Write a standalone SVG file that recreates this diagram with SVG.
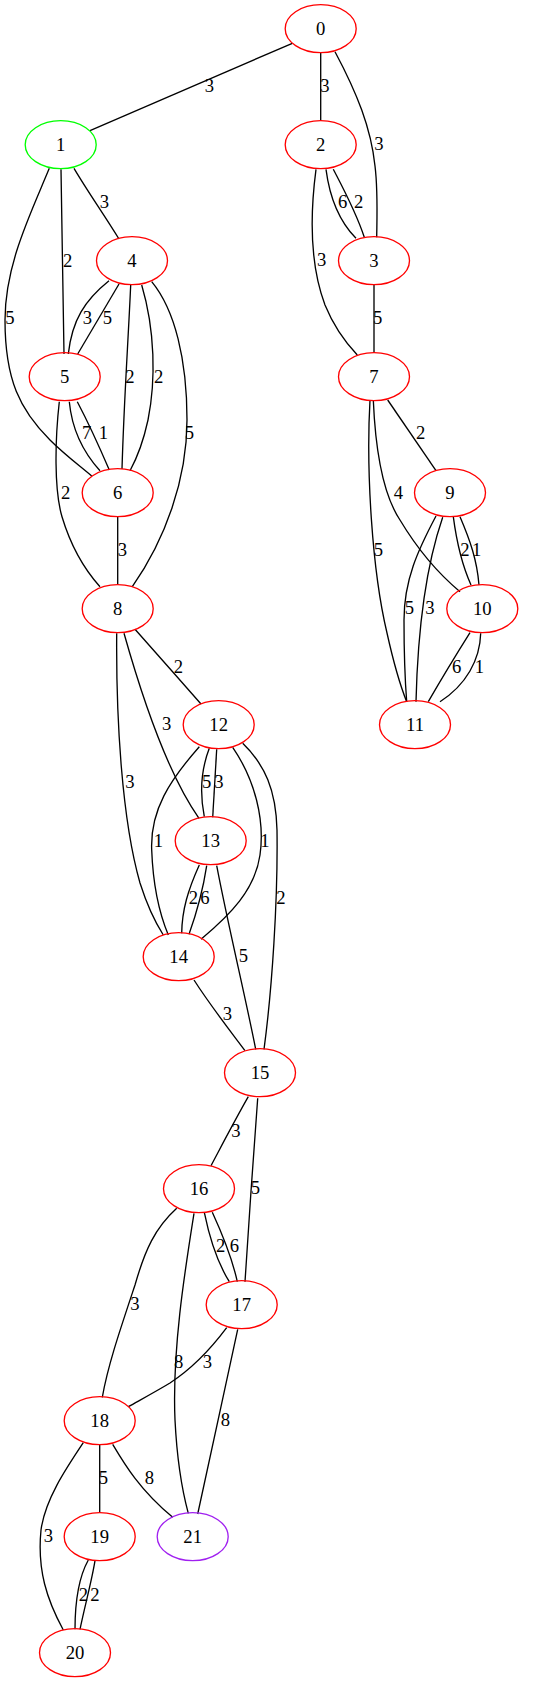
<svg xmlns="http://www.w3.org/2000/svg" width="539" height="1683" viewBox="0 0 539 1683">
<style>
.n ellipse{fill:none;stroke:#ff0000;stroke-width:1.33}
text{font-family:"Liberation Serif","Times New Roman",serif;font-size:18.67px;fill:#000;text-anchor:middle}
.e path{fill:none;stroke:#000;stroke-width:1.33}
</style>
<rect width="539" height="1683" fill="#fff"/>
<g id="edges" class="e">
<path d="M292.3,43.3 L90,130.7"/>
<path d="M320.7,52.7 L320.7,120.7"/>
<path d="M335,51.7 C357,93 371,128 375,166 C378,190 377,215 376.7,237.3"/>
<path d="M74,168.3 C88,192 105,216 119,239"/>
<path d="M61,169.3 C62,230 63,295 64,354"/>
<path d="M49.3,168.3 C30,215 5,265 5,320 C5,380 20,410 50,440 C65,455 80,466 91.7,476"/>
<path d="M326,169.3 C330,200 340,222 356,238.3"/>
<path d="M333.3,169.3 C343,188 356,212 364.3,237.3"/>
<path d="M316,169.3 C310,215 310,265 325,305 C334,327 345,342 357.3,355"/>
<path d="M374,284.7 L374,352.7"/>
<path d="M109,280.7 C85,300 72,320 68.3,354"/>
<path d="M119,284 L77.7,354"/>
<path d="M130.7,285 C128,345 124,400 122,469"/>
<path d="M141.7,285 C155,330 156,380 148,420 C143,443 137,458 130,470.7"/>
<path d="M151.7,281.7 C175,310 187,360 187,420 C187,480 165,540 132.3,586.7"/>
<path d="M69.3,401.7 C72,430 83,452 100,470.7"/>
<path d="M77.3,401.7 C88,422 99,446 109.3,470"/>
<path d="M59.3,401.7 C55,440 54,490 62,516.7 C72,550 85,570 100,586.7"/>
<path d="M117.7,516.7 L117.7,584.7"/>
<path d="M387.7,400 L436,470.7"/>
<path d="M373.3,400 C375,440 380,490 400,520 C418,550 440,575 460,591.7"/>
<path d="M370,400 C366,470 372,570 387,633 C393,660 400,685 406.7,701.7"/>
<path d="M453.3,516.7 C457,545 462,565 471,585"/>
<path d="M460,516.7 C470,540 477,560 479,585"/>
<path d="M436,516 C418,550 404,580 404,620 C404,650 405,680 406.7,701.7"/>
<path d="M442.7,517.3 C428,560 418,620 416,701.7"/>
<path d="M470,632.7 C456,655 442,678 428.3,701.7"/>
<path d="M480.7,633.3 C480,660 466,685 440,701.7"/>
<path d="M135,629.3 C155,652 180,680 201,704"/>
<path d="M124,633.3 C140,690 165,770 199,818.3"/>
<path d="M116.7,633.3 C116,720 122,820 140,883 C147,905 155,922 163.3,935"/>
<path d="M209.3,748.3 C201,770 200,795 204.3,816.7"/>
<path d="M216.7,749.3 L212.7,817.3"/>
<path d="M199.3,746.7 C170,780 150,810 151.7,850 C153,885 160,915 168.3,935"/>
<path d="M232.7,747.3 C255,780 265,820 260,855 C255,890 230,915 201,939.3"/>
<path d="M242.7,743.3 C265,765 276,790 277,830 C278,900 272,990 264,1049.3"/>
<path d="M199.3,865 C188,890 182,910 181.7,933.3"/>
<path d="M206.7,865.7 C203,890 197,912 189,934.3"/>
<path d="M216.7,865.7 C228,925 245,995 255.7,1049.3"/>
<path d="M194,980 C210,1005 228,1028 245,1050.7"/>
<path d="M248.3,1096.7 C235,1120 222,1145 211,1165.7"/>
<path d="M257.7,1098.3 C253,1160 249,1220 245,1281.7"/>
<path d="M204.3,1212.3 C210,1240 217,1262 229.3,1281.7"/>
<path d="M212.3,1212.3 C225,1240 233,1262 237.3,1281.7"/>
<path d="M176.7,1208.3 C155,1228 145,1250 135,1285 C120,1330 108,1365 102.3,1397.3"/>
<path d="M194,1213.3 C185,1270 172,1350 175,1420 C177,1460 182,1490 188.3,1513.3"/>
<path d="M226.7,1327.7 C210,1350 190,1370 170,1383 C155,1392 142,1399 128.3,1406.7"/>
<path d="M237.7,1329.3 C225,1390 210,1455 197.7,1514"/>
<path d="M99.7,1444.7 L99.7,1512.7"/>
<path d="M112.7,1444.3 C125,1465 140,1490 172.7,1517.3"/>
<path d="M83.3,1442.7 C65,1470 45,1500 41,1530 C37,1570 47,1600 63.3,1630"/>
<path d="M88.3,1560 C80,1575 75,1595 75,1629.3"/>
<path d="M95,1560.7 C92,1580 85,1605 80,1629.3"/>
</g>
<g id="edge-labels" font-family="Liberation Serif, serif">
<text x="209.3" y="92">3</text>
<text x="325" y="92">3</text>
<text x="379" y="150">3</text>
<text x="104.3" y="208">3</text>
<text x="67.7" y="267">2</text>
<text x="10" y="324">5</text>
<text x="342.7" y="208">6</text>
<text x="358.7" y="208">2</text>
<text x="321.7" y="266">3</text>
<text x="377.7" y="324">5</text>
<text x="87.3" y="324">3</text>
<text x="107.3" y="324">5</text>
<text x="130" y="383">2</text>
<text x="158.7" y="383">2</text>
<text x="189.3" y="439">5</text>
<text x="86.7" y="439">7</text>
<text x="103.3" y="439">1</text>
<text x="65.7" y="499">2</text>
<text x="122.3" y="556">3</text>
<text x="420.7" y="439">2</text>
<text x="398.3" y="499">4</text>
<text x="378.3" y="556">5</text>
<text x="465" y="556">2</text>
<text x="476.7" y="556">1</text>
<text x="409.3" y="614">5</text>
<text x="430" y="614">3</text>
<text x="456.7" y="673">6</text>
<text x="479.3" y="673">1</text>
<text x="178.3" y="673">2</text>
<text x="166.7" y="730">3</text>
<text x="130" y="788">3</text>
<text x="206.7" y="788">5</text>
<text x="219" y="788">3</text>
<text x="158.3" y="847">1</text>
<text x="265" y="847">1</text>
<text x="281" y="904">2</text>
<text x="193.3" y="904">2</text>
<text x="205" y="904">6</text>
<text x="243.3" y="962">5</text>
<text x="227.3" y="1020">3</text>
<text x="236" y="1137">3</text>
<text x="255.3" y="1194">5</text>
<text x="220.7" y="1252">2</text>
<text x="234.3" y="1252">6</text>
<text x="135" y="1310">3</text>
<text x="178.7" y="1368">8</text>
<text x="207.3" y="1368">3</text>
<text x="225.3" y="1426">8</text>
<text x="103.3" y="1484">5</text>
<text x="149.3" y="1484">8</text>
<text x="48.3" y="1542">3</text>
<text x="83.3" y="1601">2</text>
<text x="95" y="1601">2</text>
</g>
<g id="node0" class="n"><ellipse cx="320.7" cy="28.7" rx="35.5" ry="24"/><text x="320.7" y="35">0</text></g>
<g id="node1" class="n"><ellipse cx="60.7" cy="144.7" rx="35.5" ry="24" style="stroke:#00ff00"/><text x="60.7" y="151">1</text></g>
<g id="node2" class="n"><ellipse cx="320.7" cy="144.7" rx="35.5" ry="24"/><text x="320.7" y="151">2</text></g>
<g id="node3" class="n"><ellipse cx="374" cy="260.7" rx="35.5" ry="24"/><text x="374" y="267">3</text></g>
<g id="node4" class="n"><ellipse cx="132" cy="260.7" rx="35.5" ry="24"/><text x="132" y="267">4</text></g>
<g id="node5" class="n"><ellipse cx="64.7" cy="376.7" rx="35.5" ry="24"/><text x="64.7" y="383">5</text></g>
<g id="node6" class="n"><ellipse cx="117.7" cy="492.7" rx="35.5" ry="24"/><text x="117.7" y="499">6</text></g>
<g id="node7" class="n"><ellipse cx="374" cy="376.7" rx="35.5" ry="24"/><text x="374" y="383">7</text></g>
<g id="node8" class="n"><ellipse cx="117.7" cy="608.7" rx="35.5" ry="24"/><text x="117.7" y="615">8</text></g>
<g id="node9" class="n"><ellipse cx="450" cy="492.7" rx="35.5" ry="24"/><text x="450" y="499">9</text></g>
<g id="node10" class="n"><ellipse cx="482.3" cy="608.7" rx="35.5" ry="24"/><text x="482.3" y="615">10</text></g>
<g id="node11" class="n"><ellipse cx="415" cy="724.7" rx="35.5" ry="24"/><text x="415" y="731">11</text></g>
<g id="node12" class="n"><ellipse cx="218.7" cy="724.7" rx="35.5" ry="24"/><text x="218.7" y="731">12</text></g>
<g id="node13" class="n"><ellipse cx="210.7" cy="840.7" rx="35.5" ry="24"/><text x="210.7" y="847">13</text></g>
<g id="node14" class="n"><ellipse cx="178.7" cy="956.7" rx="35.5" ry="24"/><text x="178.7" y="963">14</text></g>
<g id="node15" class="n"><ellipse cx="260" cy="1072.7" rx="35.5" ry="24"/><text x="260" y="1079">15</text></g>
<g id="node16" class="n"><ellipse cx="199" cy="1188.7" rx="35.5" ry="24"/><text x="199" y="1195">16</text></g>
<g id="node17" class="n"><ellipse cx="241.7" cy="1304.7" rx="35.5" ry="24"/><text x="241.7" y="1311">17</text></g>
<g id="node18" class="n"><ellipse cx="99.7" cy="1420.7" rx="35.5" ry="24"/><text x="99.7" y="1427">18</text></g>
<g id="node19" class="n"><ellipse cx="99.7" cy="1536.7" rx="35.5" ry="24"/><text x="99.7" y="1543">19</text></g>
<g id="node20" class="n"><ellipse cx="75" cy="1652.7" rx="35.5" ry="24"/><text x="75" y="1659">20</text></g>
<g id="node21" class="n"><ellipse cx="192.7" cy="1536.7" rx="35.5" ry="24" style="stroke:#a020f0"/><text x="192.7" y="1543">21</text></g>
</svg>
